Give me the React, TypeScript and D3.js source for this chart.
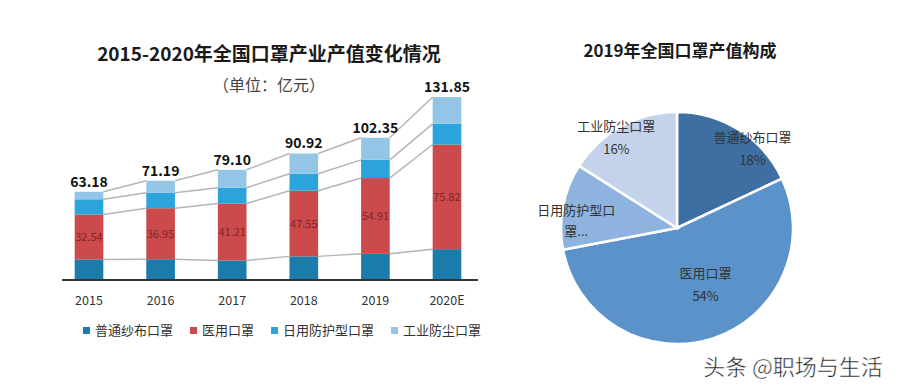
import React from 'react';
import * as d3 from 'd3';

const years = ['2015', '2016', '2017', '2018', '2019', '2020E'];
const totals = [63.18, 71.19, 79.1, 90.92, 102.35, 131.85];
const gauze = [14.2, 14.33, 13.44, 16.39, 18.21, 21.63];
const medical = [32.54, 36.95, 41.21, 47.55, 54.91, 75.82];
const daily = [11.0, 11.15, 11.46, 12.28, 13.19, 14.93];
const industrial = [5.44, 8.76, 12.99, 14.7, 16.04, 19.47];

const seriesNames = ['普通纱布口罩', '医用口罩', '日用防护型口罩', '工业防尘口罩'];
const barColors = ['#1b7bab', '#cc4a4c', '#2ba4dc', '#93c5e6'];

const pieNames = ['普通纱布口罩', '医用口罩', '日用防护型口罩', '工业防尘口罩'];
const pieValues = [18, 54, 12, 16];
const pieColors = ['#3e6fa2', '#5a92c9', '#8eb3de', '#c4d3eb'];
// label placement: radius and angular shift (degrees) from slice middle
const pieLabelRadius = [110, 63, 101, 109];
const pieLabelShift = [11, -9, -7, -5];

const FONT = '"Noto Sans CJK SC", "Noto Sans", sans-serif';

const W = 900;
const H = 392;

export default function App() {
  // bar chart scales
  const x = d3.scaleBand<string>().domain(years).range([58, 478]).paddingInner(0.6).paddingOuter(0.233);
  const y = d3.scaleLinear().domain([0, 131.85]).range([279, 97]);
  const bw = x.bandwidth();

  const rows = years.map((yr, i) => ({
    year: yr,
    s0: gauze[i],
    s1: medical[i],
    s2: daily[i],
    s3: industrial[i],
  }));
  const stack = d3.stack<any>().keys(['s0', 's1', 's2', 's3']);
  const layers = stack(rows);

  // connector lines at each boundary
  const connectors: { x1: number; y1: number; x2: number; y2: number }[] = [];
  layers.forEach((layer) => {
    for (let i = 0; i < layer.length - 1; i++) {
      connectors.push({
        x1: (x(years[i]) as number) + bw,
        y1: y(layer[i][1]),
        x2: x(years[i + 1]) as number,
        y2: y(layer[i + 1][1]),
      });
    }
  });

  // pie
  const cx = 677;
  const cy = 228;
  const r = 116;
  const pie = d3.pie<number>().sort(null).value((d) => d)(pieValues);
  const arc = d3.arc<d3.PieArcDatum<number>>().innerRadius(0).outerRadius(r);

  // legend layout
  let lx = 83;
  const legendItems = seriesNames.map((name, i) => {
    const item = { name, x: lx, color: barColors[i] };
    lx += 12 + name.length * 13 + 17;
    return item;
  });

  return (
    <svg
      width={W}
      height={H}
      style={{ position: 'absolute', left: 0, top: 0, background: '#fff', fontFamily: FONT }}
    >
      {/* left title */}
      <text x={269} y={61} textAnchor="middle" fontSize={19} fontWeight="bold" fill="#1a1a1a">
        2015-2020年全国口罩产业产值变化情况
      </text>
      <text x={269} y={91} textAnchor="middle" fontSize={16} fill="#444">
        （单位：亿元）
      </text>

      {/* connectors */}
      {connectors.map((c, i) => (
        <line key={i} x1={c.x1} y1={c.y1} x2={c.x2} y2={c.y2} stroke="#b5b5b5" strokeWidth={1.5} />
      ))}

      {/* bars */}
      {layers.map((layer, li) => (
        <g key={li} fill={barColors[li]}>
          {layer.map((d, i) => (
            <rect key={i} x={x(years[i])} y={y(d[1])} width={bw} height={y(d[0]) - y(d[1])} />
          ))}
        </g>
      ))}

      {/* medical labels */}
      {layers[1].map((d, i) => (
        <text
          key={i}
          x={(x(years[i]) as number) + bw / 2}
          y={(y(d[0]) + y(d[1])) / 2 + 4}
          textAnchor="middle"
          fontSize={11}
          fill="#7e2626"
        >
          {medical[i].toFixed(2)}
        </text>
      ))}

      {/* totals */}
      {totals.map((t, i) => (
        <text
          key={i}
          x={(x(years[i]) as number) + bw / 2}
          y={y(t) - 5}
          textAnchor="middle"
          fontSize={14}
          fontWeight="bold"
          fill="#111"
        >
          {t.toFixed(2)}
        </text>
      ))}

      {/* baseline */}
      <line x1={62} x2={478} y1={y(0) + 1} y2={y(0) + 1} stroke="#333" strokeWidth={2} />

      {/* year labels */}
      {years.map((yr) => (
        <text key={yr} x={(x(yr) as number) + bw / 2} y={305} textAnchor="middle" fontSize={12.5} fill="#333">
          {yr}
        </text>
      ))}

      {/* legend */}
      {legendItems.map((it) => (
        <g key={it.name}>
          <rect x={it.x} y={327} width={7} height={7} fill={it.color} />
          <text x={it.x + 12} y={335} fontSize={13} fill="#333">
            {it.name}
          </text>
        </g>
      ))}

      {/* right title */}
      <text x={680} y={57} textAnchor="middle" fontSize={17} fontWeight="bold" fill="#1a1a1a">
        2019年全国口罩产值构成
      </text>

      {/* pie */}
      <g transform={`translate(${cx},${cy})`}>
        {pie.map((p, i) => (
          <path key={i} d={arc(p) as string} fill={pieColors[i]} stroke="#fff" strokeWidth={2.5} />
        ))}
        {pie.map((p, i) => {
          const a = (p.startAngle + p.endAngle) / 2 + (pieLabelShift[i] * Math.PI) / 180;
          const px = Math.sin(a) * pieLabelRadius[i];
          const py = -Math.cos(a) * pieLabelRadius[i];
          const pct = `${pieValues[i]}%`;
          if (i === 2) {
            return (
              <text key={i} x={px} y={py - 6} textAnchor="middle" fontSize={13} fill="#333">
                <tspan x={px} dy={0}>日用防护型口</tspan>
                <tspan x={px} dy={21}>罩...</tspan>
              </text>
            );
          }
          return (
            <text key={i} x={px} y={py - 6} textAnchor="middle" fontSize={13} fill="#333">
              <tspan x={px} dy={0}>{pieNames[i]}</tspan>
              <tspan x={px} dy={23}>{pct}</tspan>
            </text>
          );
        })}
      </g>

      {/* watermark */}
      <text
        x={793}
        y={375}
        textAnchor="middle"
        fontSize={22}
        fill="#1a1a1a"
        stroke="#fff"
        strokeWidth={0.5}
      >
        头条 @职场与生活
      </text>
    </svg>
  );
}
